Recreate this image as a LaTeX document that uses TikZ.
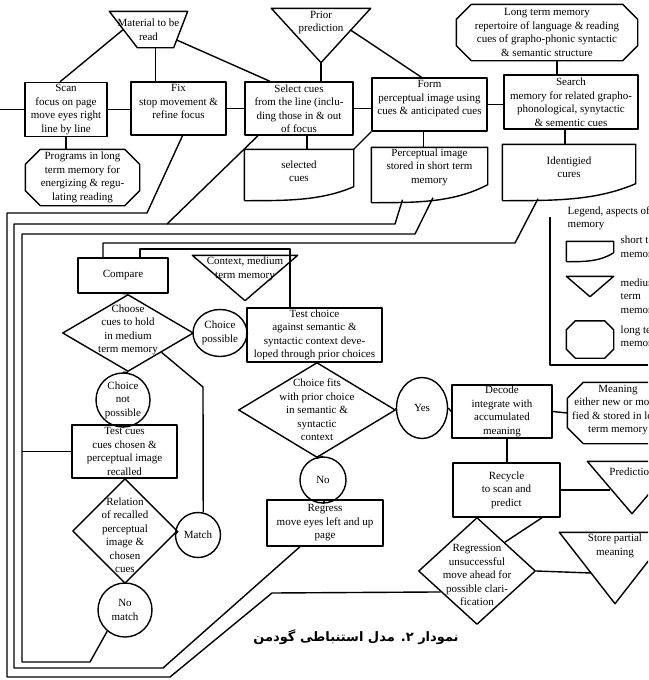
\documentclass[tikz,border=0pt]{standalone}
\usepackage{fontspec}
\setmainfont{Liberation Serif}
\newfontfamily\arabicfont[Script=Arabic]{DejaVu Sans}
\TeXXeTstate=1
\usetikzlibrary{shapes.geometric}

\newcommand{\trishape}[1]{\draw (#1.north west) -- (#1.north east) -- (#1.south) -- cycle;}
\newcommand{\octshape}[2]{\draw ([xshift=#2pt]#1.north west) -- ([xshift=-#2pt]#1.north east) -- ([yshift=-#2pt]#1.north east) -- ([yshift=#2pt]#1.south east) -- ([xshift=-#2pt]#1.south east) -- ([xshift=#2pt]#1.south west) -- ([yshift=#2pt]#1.south west) -- ([yshift=-#2pt]#1.north west) -- cycle;}
\newcommand{\stmshape}[3]{\pgfmathsetmacro{\ca}{-0.3*#3}\pgfmathsetmacro{\cb}{0.4*#3}%
  \draw (#1.south west) -- (#1.north west) -- (#1.north east) -- ([yshift=#2pt]#1.south east) .. controls +(\ca,#2) and +(\cb,0) .. (#1.south west);}

\begin{document}
\begin{tikzpicture}[x=1pt, y=-1pt, line width=1.4pt, line join=round, font=\fontsize{11}{13.5}\selectfont,
  box/.style={rectangle, draw, align=center, inner sep=0pt},
  frame/.style={rectangle, inner sep=0pt},
  txt/.style={align=center, inner sep=0pt},
  ring/.style={circle, draw, align=center, inner sep=0pt},
  oval/.style={ellipse, draw, align=center, inner sep=0pt},
  dia/.style={diamond, draw, inner sep=0pt},
  key/.style={align=left, anchor=west, inner sep=0pt}]
\useasboundingbox (0,0) rectangle (648,680);
\clip (0,0) rectangle (648,680);

% top row
\node[frame, minimum width=77, minimum height=35] (mat) at (148.5,29.5) {};
\draw (mat.north west) -- (mat.north east) -- ([xshift=-14pt]mat.south east) -- ([xshift=28pt]mat.south west) -- cycle;
\node[txt] (matT) at (mat) {Material to be\\read};
\node[frame, minimum width=98, minimum height=53] (pp) at (321,35.5) {};
\trishape{pp}
\node[txt, anchor=north] (ppT) at ([yshift=-2pt]pp.north) {Prior\\prediction};
\node[frame, minimum width=180, minimum height=55] (ltm) at (547,32.5) {};
\octshape{ltm}{15}
\node[txt] (ltmT) at (ltm) {Long term memory\\repertoire of language \& reading\\cues of grapho-phonic syntactic\\\& semantic structure};

\node[box, minimum width=82, minimum height=54] (scan) at (66,109.5) {Scan\\focus on page\\move eyes right\\line by line};
\node[box, minimum width=95, minimum height=53] (fix) at (178.5,108.5) {Fix\\stop movement \&\\refine focus\\\mbox{}};
\node[box, minimum width=108, minimum height=53] (sel) at (299,108.5) {Select cues\\from the line (inclu-\\ding those in \& out\\of focus};
\node[box, minimum width=115, minimum height=53] (form) at (429.5,104.5) {Form\\perceptual image using\\cues \& anticipated cues\\\mbox{}};
\node[box, minimum width=134, minimum height=54] (srch) at (571,102) {Search\\memory for related grapho-\\phonological, synytactic\\\& sementic cues};

\node[frame, minimum width=113, minimum height=55] (prog) at (82.5,177.5) {};
\octshape{prog}{15}
\node[txt] (progT) at (prog) {Programs in long\\term memory for\\energizing \& regu-\\lating reading};
\node[frame, minimum width=108, minimum height=50] (selc) at (299,175) {};
\stmshape{selc}{14}{108}
\node[txt] (selcT) at (299,171) {selected\\cues};
\node[frame, minimum width=115, minimum height=54] (perc) at (429.5,175) {};
\stmshape{perc}{18}{115}
\node[txt] (percT) at (429.5,167) {Perceptual image\\stored in short term\\memory};
\node[frame, minimum width=132, minimum height=55] (idc) at (569,172.5) {};
\stmshape{idc}{17}{132}
\node[txt] (idcT) at (569,167) {Identigied\\cures};

% legend
\draw (550,217) -- (550,365) -- (648,365);
\node[txt, anchor=north west, align=left] (legT) at (567,206) {Legend, aspects of\\memory};
\node[frame, minimum width=46, minimum height=19] (lstm) at (590,251.5) {};
\stmshape{lstm}{9}{46}
\node[key] (lstmT) at (620,248) {short term\\memory};
\node[frame, minimum width=46, minimum height=19] (ltri) at (590,286.5) {};
\trishape{ltri}
\node[key] (ltriT) at (620,297) {medium\\term\\memory};
\node[frame, minimum width=46, minimum height=36] (loct) at (590,339.5) {};
\octshape{loct}{9}
\node[key] (loctT) at (620,337.5) {long term\\memory};

% middle
\node[box, minimum width=90, minimum height=35] (cmp) at (123,275.5) {Compare};
\node[frame, minimum width=104, minimum height=44] (ctx) at (245,278) {};
\trishape{ctx}
\node[txt, anchor=north] (ctxT) at ([yshift=-1pt]ctx.north) {Context, medium\\term memory};
\node[dia, minimum width=131, minimum height=77] (ch) at (128,333) {};
\node[txt] (chT) at (128,330) {Choose\\cues to hold\\in medium\\term memory};
\node[oval, minimum width=54, minimum height=47] (cp) at (220,333) {Choice\\possible};
\node[box, minimum width=135, minimum height=54] (tc) at (314.5,335) {Test choice\\against semantic \&\\syntactic context deve-\\loped through prior choices};
\node[ring, minimum size=54] (cnp) at (123,400) {Choice\\not\\possible};
\node[box, minimum width=105, minimum height=53] (tcue) at (124.5,451.5) {Test cues\\cues chosen \&\\perceptual image\\recalled};
\node[dia, minimum width=105, minimum height=105] (rel) at (125,531) {};
\node[txt] (relT) at (125,535) {Relation\\of recalled\\perceptual\\image \&\\chosen\\cues};
\node[ring, minimum size=45] (mt) at (198,535) {Match};
\node[ring, minimum size=54] (nm) at (125,610) {No\\match};

\node[dia, minimum width=157, minimum height=95] (cf) at (317,410) {};
\node[txt] (cfT) at (317,410) {Choice fits\\with prior choice\\in semantic \&\\syntactic\\context};
\node[oval, minimum width=51, minimum height=61] (yes) at (422,408) {Yes};
\node[ring, minimum size=46] (no) at (323,480) {No};
\node[box, minimum width=116, minimum height=46] (rg) at (325,523) {Regress\\move eyes left and up\\page};
\node[box, minimum width=100, minimum height=53] (dec) at (502,411.5) {Decode\\integrate with\\accumulated\\meaning};
\node[frame, minimum width=100, minimum height=60] (mean) at (618,413) {};
\octshape{mean}{16}
\node[txt] (meanT) at (618,410) {Meaning\\either new or modi-\\fied \& stored in long\\term memory};
\node[box, minimum width=107, minimum height=54] (rec) at (506.5,490) {Recycle\\to scan and\\predict};
\node[frame, minimum width=88, minimum height=51] (pred) at (632,487.5) {};
\trishape{pred}
\node[txt, anchor=north] (predT) at ([yshift=-6pt]pred.north) {Prediction};
\node[frame, minimum width=110, minimum height=70] (spm) at (615,568) {};
\trishape{spm}
\node[txt, anchor=north] (spmT) at ([yshift=-1pt]spm.north) {Store partial\\meaning};
\node[dia, minimum width=117, minimum height=107] (reg) at (477,571) {};
\node[txt] (regT) at (477,575) {Regression\\unsuccessful\\move ahead for\\possible clari-\\fication};

\node[txt] (cap) at (356,637) {\arabicfont\bfseries\fontsize{13}{15}\selectfont\beginR نمودار ۲. مدل استنباطی گودمن\endR};

% connections
\coordinate (lft) at (0,109.5);
\draw (scan.west) -- (lft);
\draw ([xshift=14pt]mat.west) -- ([xshift=-6pt]scan.north);
\draw ([xshift=7pt]mat.south) -- ([xshift=-23pt]fix.north);
\draw ([xshift=-11pt,yshift=-10.5pt]mat.east) -- ([xshift=-29pt]sel.north);
\draw (scan.east) -- (scan.east -| fix.west);
\draw (fix.east) -- (fix.east -| sel.west);
\draw (sel.east) -- (sel.east -| form.west);
\draw (form.east) -- (form.east -| srch.west);
\draw (pp.south) -- (pp.south |- sel.north);
\draw ([xshift=29.5pt,yshift=5.5pt]pp.center) -- ([xshift=-8pt]form.north);
\draw ([xshift=10pt]ltm.south) -- ([xshift=-14pt]srch.north);
\draw (scan.south) -- (scan.south |- prog.north);
\draw ([xshift=8pt]sel.south) -- ([xshift=8pt]selc.north);
\draw (selc.north east) -- (form.south west);
\draw ([xshift=-6pt]form.south) -- ([xshift=-6pt]perc.north);
\draw ([xshift=-6pt]srch.south) -- ([xshift=-4pt]idc.north);

\draw ([xshift=4pt]fix.south) -- (147,213) -- (7,213) -- (7,677) -- (170,677) -- (272,593) -- (reg.-150);
\draw ([xshift=-41pt]sel.south) -- (167,224);
\draw ([xshift=-27pt,yshift=3pt]perc.south) -- (395,224) -- (14,224) -- (14,668) -- (163,668) -- ([xshift=-25pt]rg.south);
\draw ([xshift=3.5pt,yshift=5pt]perc.south) -- (415,234) -- (22,234) -- (22,662) -- (90,662) -- (nm.-130);
\coordinate (tj) at (22,451.5);
\draw (tj) -- (tcue.west);
\draw ([xshift=-31pt,yshift=2pt]idc.south) -- (515,243) -- (103,243) -- ([xshift=-20pt]cmp.north);
\draw ([xshift=17pt]cmp.north) -- (140,249) -- (290,249) -- ([xshift=-24.5pt]tc.north);

\draw (cmp.south) -- (ch.north);
\draw (ch.east) -- (cp.west);
\draw (cp.east) -- (tc.west);
\draw (ch.south) -- (cnp.north);
\draw (cnp.south) -- (tcue.north);
\draw (tcue.south) -- (rel.north);
\draw (rel.east) -- (mt.west);
\draw (rel.south) -- (nm.north);
\draw (mt.77) -- (203,387) -- (ch.-30);
\draw (tc.south) -- (cf.north);
\draw (cf.east) -- (yes.west);
\draw (yes.east) -- (dec.west);
\draw (cf.south) -- (no.north);
\draw (no.south) -- (rg.north);
\draw (dec.east) -- (mean.west);
\draw ([xshift=5pt]dec.south) -- ([xshift=0.5pt]rec.north);
\draw (rec.east) -- ([xshift=-22pt,yshift=-2.5pt]pred.center);
\draw (reg.east) -- ([xshift=-24pt,yshift=-5pt]spm.center);
\draw (reg.46) -- ([xshift=35.5pt]rec.south);
\end{tikzpicture}
\end{document}
